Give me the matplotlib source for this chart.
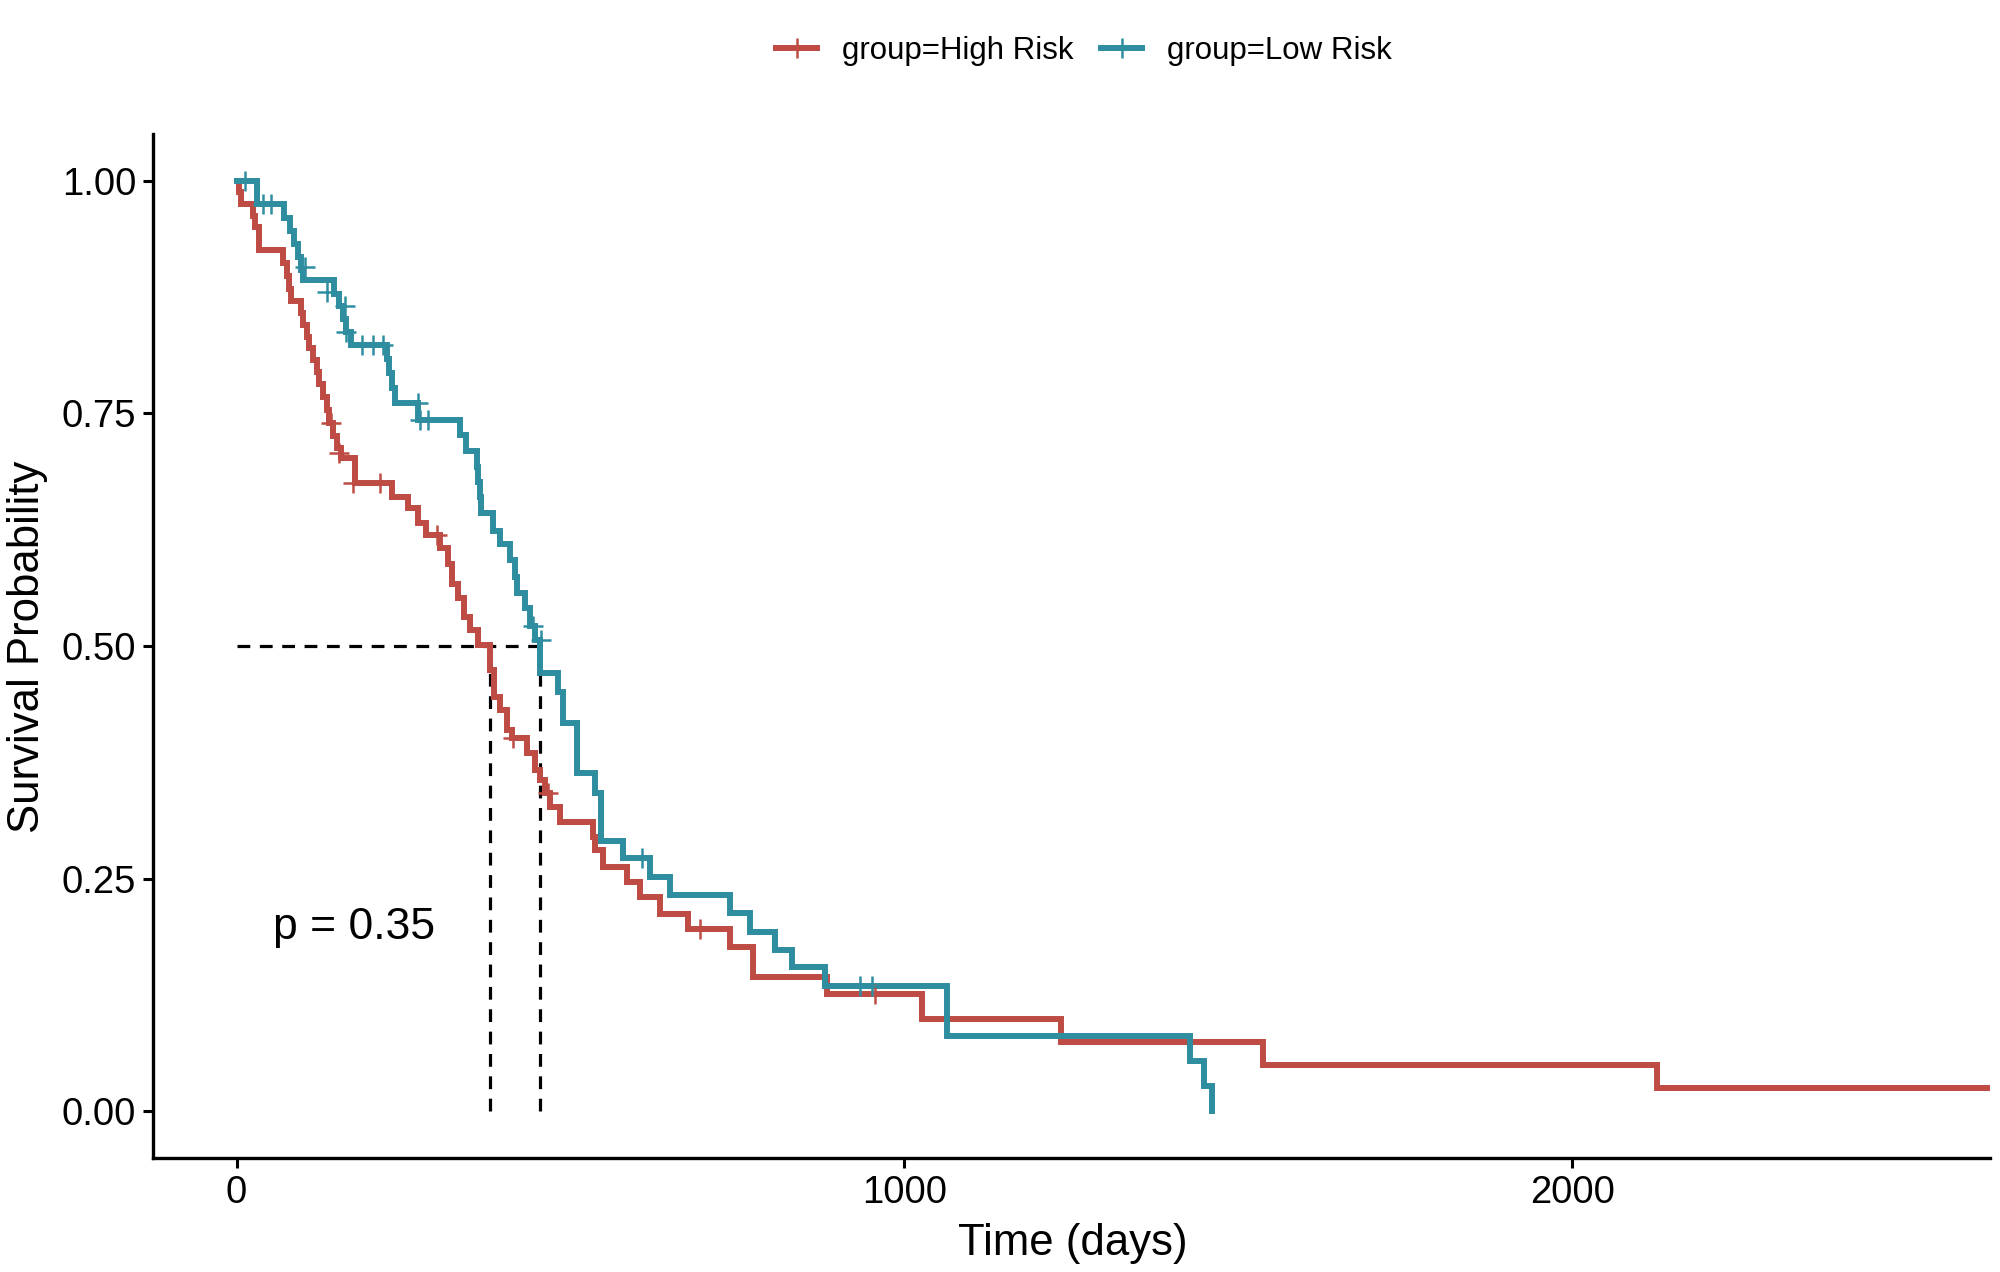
import matplotlib
matplotlib.use("Agg")
import matplotlib.pyplot as plt
from matplotlib.lines import Line2D

plt.rcParams['font.family'] = ['Liberation Sans', 'DejaVu Sans']

# ---------------- data ----------------
group_labels = ['group=High Risk', 'group=Low Risk']
group_colors = ['#BF4C44', '#2E8EA0']

high_time = [0, 3, 7, 24, 28, 33, 34, 69, 76, 79, 82, 96, 99, 106, 109, 114, 120, 124,
             130, 135, 138, 145, 150, 156, 178, 233, 256, 271, 283, 305, 316, 323, 332,
             340, 350, 362, 380, 386, 395, 405, 413, 435, 447, 455, 462, 470, 485, 533,
             537, 549, 585, 604, 634, 676, 739, 773, 884, 1026, 1234, 1536, 2127]
high_surv = [1.0, 0.988, 0.975, 0.962, 0.950, 0.938, 0.925, 0.911, 0.897, 0.884, 0.871,
             0.858, 0.845, 0.832, 0.820, 0.807, 0.794, 0.781, 0.768, 0.754, 0.740, 0.726,
             0.713, 0.702, 0.675, 0.660, 0.648, 0.632, 0.619, 0.605, 0.588, 0.567, 0.552,
             0.531, 0.517, 0.501, 0.474, 0.445, 0.431, 0.410, 0.401, 0.385, 0.367, 0.356,
             0.342, 0.327, 0.311, 0.295, 0.281, 0.263, 0.246, 0.230, 0.212, 0.196, 0.177,
             0.144, 0.126, 0.099, 0.075, 0.050, 0.025]
high_end = 2624
high_cens_time = [141, 153, 175, 215, 300, 414, 467, 694, 956]
high_cens_surv = [0.740, 0.707, 0.675, 0.675, 0.619, 0.401, 0.342, 0.196, 0.126]

low_time = [0, 30, 71, 80, 86, 92, 96, 100, 146, 154, 160, 164, 172, 225, 229, 233, 238,
            272, 335, 343, 360, 362, 364, 366, 384, 395, 410, 417, 420, 432, 440, 447, 455,
            482, 489, 510, 537, 545, 579, 619, 649, 739, 769, 806, 831, 881, 1063, 1427,
            1449, 1460]
low_surv = [1.0, 0.975, 0.960, 0.946, 0.932, 0.918, 0.904, 0.893, 0.878, 0.865, 0.851,
            0.837, 0.823, 0.808, 0.793, 0.777, 0.761, 0.743, 0.727, 0.710, 0.692, 0.676,
            0.660, 0.643, 0.624, 0.610, 0.592, 0.574, 0.557, 0.541, 0.522, 0.506, 0.471,
            0.451, 0.417, 0.364, 0.342, 0.291, 0.272, 0.252, 0.233, 0.213, 0.193, 0.174,
            0.155, 0.135, 0.081, 0.054, 0.027, 0.0]
low_end = 1460
low_cens_time = [13, 40, 51, 103, 136, 163, 164, 188, 205, 220, 271, 274, 286, 444, 456,
                 607, 933, 951]
low_cens_surv = [1.0, 0.975, 0.975, 0.907, 0.880, 0.865, 0.837, 0.823, 0.823, 0.823,
                 0.761, 0.743, 0.743, 0.522, 0.506, 0.272, 0.135, 0.135]

median_times = [380, 455]
p_text = 'p = 0.35'
p_pos = (54, 0.198)

x_ticks = [0, 1000, 2000]
y_ticks = [0.0, 0.25, 0.50, 0.75, 1.00]
y_tick_labels = ['0.00', '0.25', '0.50', '0.75', '1.00']

# ---------------- figure ----------------
fig = plt.figure(figsize=(20, 12.72), dpi=100)
ax = fig.add_axes([0.0765, 0.0896, 0.9185, 0.805])

lw = 4.3
series = [
    (high_time, high_surv, high_end, high_cens_time, high_cens_surv),
    (low_time, low_surv, low_end, low_cens_time, low_cens_surv),
]
for (t, s, end, ct, cs), col in zip(series, group_colors):
    ax.step(list(t) + [end], list(s) + [s[-1]], where='post', color=col, lw=lw,
            solid_joinstyle='miter', zorder=3)
    ax.plot(ct, cs, linestyle='none', marker='+', markersize=15, mew=1.8,
            color=col, zorder=4)

# median lines
dash = (0, (4, 3))
ax.plot([0, max(median_times)], [0.5, 0.5], color='black', lw=2.3, linestyle=dash, zorder=2)
for m in median_times:
    ax.plot([m, m], [0, 0.5], color='black', lw=2.3, linestyle=dash, zorder=2)

ax.text(p_pos[0], p_pos[1], p_text, fontsize=32, ha='left', va='center')

ax.set_xlim(-125, 2625)
ax.set_ylim(-0.05, 1.05)
ax.set_xticks(x_ticks)
ax.set_xticklabels([str(v) for v in x_ticks])
ax.set_yticks(y_ticks)
ax.set_yticklabels(y_tick_labels)

for side in ['top', 'right']:
    ax.spines[side].set_visible(False)
for side in ['left', 'bottom']:
    ax.spines[side].set_linewidth(2.4)
    ax.spines[side].set_color('black')
ax.tick_params(axis='both', direction='out', length=7, width=2.2, labelsize=27.5,
               colors='black', pad=5)

fig.text(0.5365, 1 - 1243 / 1272, 'Time (days)', fontsize=31.5, ha='center', va='center')
fig.text(0.014, 1 - 647 / 1272, 'Survival Probability', fontsize=31.5, ha='center',
         va='center', rotation=90)

handles = [Line2D([0], [0], color=c, lw=lw, marker='+', markersize=15, mew=1.8)
           for c in group_colors]
fig.legend(handles, group_labels, loc='center', bbox_to_anchor=(0.542, 1 - 51 / 1272),
           ncol=2, frameon=False, fontsize=22.5, handlelength=1.3, handletextpad=0.8,
           columnspacing=0.9)

fig.savefig('out.png', dpi=100, facecolor='white')
